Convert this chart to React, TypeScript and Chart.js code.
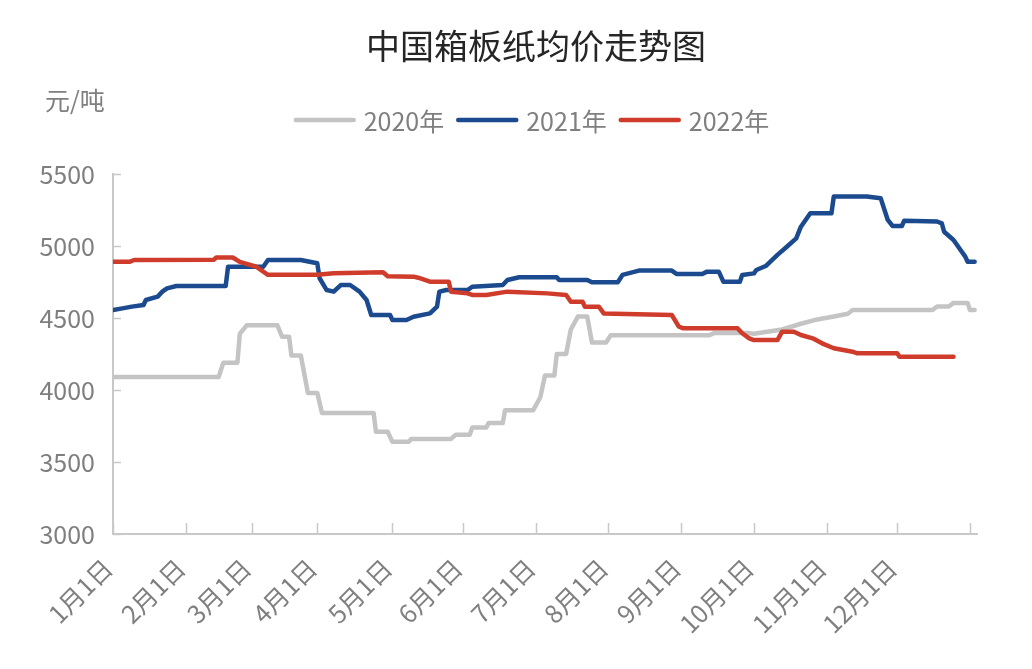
import React, { useEffect, useRef } from "react";
import { Chart, registerables } from "chart.js";

Chart.register(...registerables);

const FONT = '"Noto Sans CJK SC", "Noto Sans", sans-serif';

const chartTitle = "中国箱板纸均价走势图";
const unitLabel = "元/吨";
const seriesNames = ["2020年", "2021年", "2022年"];
const seriesColors = ["#C4C4C4", "#1B4A8E", "#CF3C2C"];

const monthLabels = ["1月1日", "2月1日", "3月1日", "4月1日", "5月1日", "6月1日", "7月1日", "8月1日", "9月1日", "10月1日", "11月1日", "12月1日", ""];
const monthTickIndex = [0, 31, 59, 87, 119, 149, 180, 211, 242, 273, 304, 334, 365];
const yTicks = [3000, 3500, 4000, 4500, 5000, 5500];

// 2020
const day2020 = [0, 45, 47, 53, 54, 57, 70, 72, 75, 76, 80, 83, 87, 89, 111, 112, 117, 119, 126, 127, 144, 146, 152, 153, 159, 160, 166, 167, 179, 182, 184, 188, 189, 193, 195, 198, 202, 204, 210, 212, 254, 256, 271, 273, 285, 293, 300, 307, 313, 315, 349, 351, 356, 358, 364, 365, 367];
const price2020 = [4090, 4090, 4190, 4190, 4390, 4450, 4450, 4370, 4370, 4240, 4240, 3980, 3980, 3840, 3840, 3710, 3710, 3640, 3640, 3660, 3660, 3690, 3690, 3740, 3740, 3770, 3770, 3860, 3860, 3950, 4100, 4100, 4250, 4250, 4420, 4510, 4510, 4330, 4330, 4380, 4380, 4395, 4395, 4390, 4420, 4460, 4490, 4510, 4530, 4555, 4555, 4580, 4580, 4605, 4605, 4555, 4555];

// 2021
const day2021 = [0, 4, 8, 13, 14, 19, 21, 23, 27, 48, 49, 64, 66, 80, 87, 88, 91, 94, 97, 101, 105, 108, 110, 118, 119, 125, 128, 135, 138, 139, 142, 151, 153, 166, 168, 173, 189, 190, 202, 204, 215, 217, 224, 238, 240, 251, 253, 258, 260, 267, 268, 273, 274, 278, 283, 287, 291, 293, 297, 306, 307, 321, 327, 330, 332, 336, 337, 351, 353, 354, 358, 361, 363, 364, 367];
const price2021 = [4556, 4567, 4579, 4590, 4625, 4648, 4683, 4706, 4722, 4722, 4856, 4856, 4903, 4903, 4880, 4776, 4694, 4683, 4729, 4729, 4683, 4625, 4521, 4521, 4486, 4486, 4509, 4532, 4579, 4683, 4694, 4694, 4717, 4729, 4764, 4783, 4783, 4764, 4764, 4748, 4748, 4799, 4829, 4829, 4806, 4806, 4822, 4822, 4752, 4752, 4799, 4810, 4833, 4861, 4938, 4995, 5053, 5134, 5227, 5227, 5343, 5343, 5331, 5181, 5139, 5139, 5176, 5170, 5157, 5099, 5042, 4972, 4926, 4891, 4891];

// 2022
const day2022 = [0, 7, 9, 43, 44, 51, 54, 61, 66, 87, 94, 115, 117, 128, 130, 135, 143, 144, 151, 153, 159, 168, 185, 193, 195, 200, 201, 207, 209, 238, 241, 243, 266, 268, 271, 273, 283, 285, 290, 293, 298, 302, 307, 315, 317, 334, 335, 358];
const price2022 = [4890, 4890, 4903, 4905, 4920, 4920, 4890, 4856, 4800, 4800, 4810, 4818, 4790, 4787, 4780, 4752, 4752, 4683, 4671, 4660, 4660, 4683, 4671, 4660, 4613, 4613, 4578, 4578, 4532, 4521, 4440, 4428, 4428, 4394, 4359, 4347, 4347, 4405, 4405, 4382, 4359, 4324, 4290, 4266, 4255, 4255, 4231, 4231];

const seriesDays = [day2020, day2021, day2022];
const seriesPrices = [price2020, price2021, price2022];

const decorPlugin = {
  id: "decor",
  afterDraw(chart: any) {
    const ctx = chart.ctx as CanvasRenderingContext2D;
    const { left, bottom } = chart.chartArea;
    const xs = chart.scales.x;
    const ys = chart.scales.y;
    ctx.save();
    ctx.strokeStyle = "#C8C8C8";
    ctx.lineWidth = 1.5;
    monthTickIndex.forEach((v) => {
      const px = Math.round(xs.getPixelForValue(v)) + 0.5;
      ctx.beginPath();
      ctx.moveTo(px, bottom);
      ctx.lineTo(px, bottom - 11);
      ctx.stroke();
    });
    yTicks.forEach((v) => {
      const py = Math.round(ys.getPixelForValue(v)) + 0.5;
      ctx.beginPath();
      ctx.moveTo(left, py);
      ctx.lineTo(left + 8, py);
      ctx.stroke();
    });

    // title
    ctx.fillStyle = "#262626";
    ctx.font = `34px ${FONT}`;
    ctx.textAlign = "center";
    ctx.textBaseline = "middle";
    ctx.fillText(chartTitle, 528, 38);

    // unit
    ctx.fillStyle = "#7F7F7F";
    ctx.font = `25px ${FONT}`;
    ctx.textAlign = "left";
    ctx.fillText(unitLabel, 37, 92);

    // legend
    ctx.font = `25px ${FONT}`;
    const lineLen = 58;
    const gapLT = 10;
    const gapItem = 14;
    const widths = seriesNames.map((n) => ctx.measureText(n).width);
    let total = 0;
    widths.forEach((w, i) => {
      total += lineLen + gapLT + w + (i < widths.length - 1 ? gapItem : 0);
    });
    let x = 524.5 - total / 2;
    const ly = 112;
    seriesNames.forEach((n, i) => {
      ctx.strokeStyle = seriesColors[i];
      ctx.lineWidth = 4.5;
      ctx.lineCap = "round";
      ctx.beginPath();
      ctx.moveTo(x, ly);
      ctx.lineTo(x + lineLen, ly);
      ctx.stroke();
      x += lineLen + gapLT;
      ctx.fillStyle = "#7F7F7F";
      ctx.fillText(n, x, ly + 1);
      x += widths[i] + gapItem;
    });
    ctx.restore();
  },
};

export default function App() {
  const canvasRef = useRef<HTMLCanvasElement | null>(null);

  useEffect(() => {
    if (!canvasRef.current) return;
    const datasets = seriesNames.map((name, i) => ({
      label: name,
      data: seriesDays[i].map((d, j) => ({ x: d, y: seriesPrices[i][j] })),
      borderColor: seriesColors[i],
      backgroundColor: seriesColors[i],
      borderWidth: 4.5,
      pointRadius: 0,
      tension: 0,
      fill: false,
      borderJoinStyle: "round" as const,
      borderCapStyle: "round" as const,
      order: 2 - i,
    }));

    const chart = new Chart(canvasRef.current, {
      type: "line",
      data: { datasets },
      options: {
        responsive: false,
        animation: false,
        devicePixelRatio: 1,
        layout: { padding: { top: 166, right: 47, left: 0, bottom: 0 } },
        plugins: {
          legend: { display: false },
          title: { display: false },
          tooltip: { enabled: false },
        },
        scales: {
          x: {
            type: "linear",
            min: 0,
            max: 368,
            afterBuildTicks: (scale: any) => {
              scale.ticks = monthTickIndex.map((v) => ({ value: v }));
            },
            afterFit: (scale: any) => {
              scale.height = 127;
            },
            grid: { display: true, drawOnChartArea: false, drawTicks: false },
            border: { display: true, color: "#C8C8C8", width: 2 },
            ticks: {
              autoSkip: false,
              minRotation: 45,
              maxRotation: 45,
              padding: 19,
              labelOffset: -5,
              color: "#7F7F7F",
              font: { family: FONT, size: 25 },
              callback: (_v: any, index: number) => monthLabels[index] ?? "",
            },
          },
          y: {
            min: 3000,
            max: 5500,
            afterFit: (scale: any) => {
              scale.width = 105;
            },
            grid: { display: true, drawOnChartArea: false, drawTicks: false },
            border: { display: true, color: "#C8C8C8", width: 2 },
            ticks: {
              stepSize: 500,
              padding: 18,
              color: "#7F7F7F",
              font: { family: FONT, size: 25 },
              callback: (v: any) => String(v),
            },
          },
        },
      },
      plugins: [decorPlugin],
    });
    return () => chart.destroy();
  }, []);

  return (
    <div style={{ width: 1016, height: 653 }}>
      <canvas ref={canvasRef} width={1016} height={653} style={{ display: "block" }} />
    </div>
  );
}
